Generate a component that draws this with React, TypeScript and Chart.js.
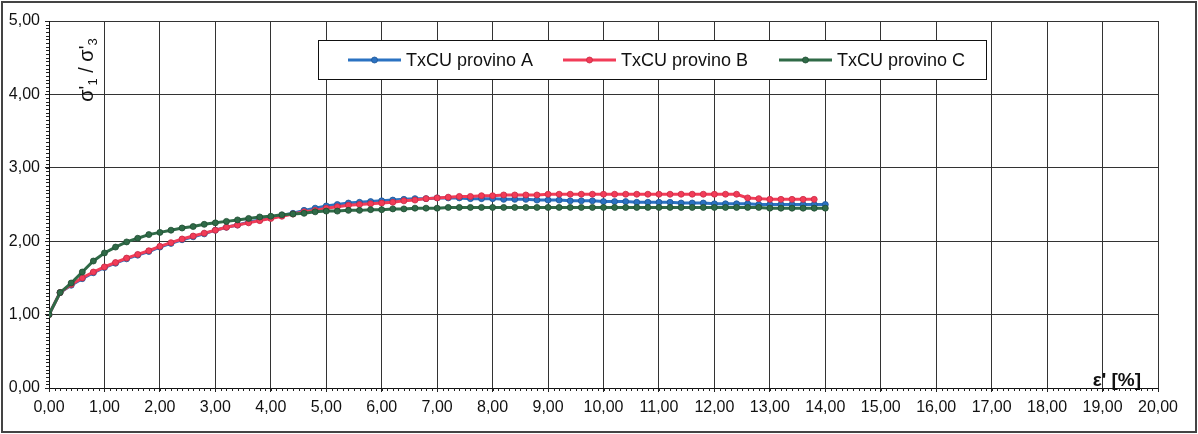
import React, { useEffect, useRef } from 'react';
import { Chart, registerables } from 'chart.js';

Chart.register(...registerables);

// Axial strain ε' [%]
const strainAC = [
  0, 0.2, 0.4, 0.6, 0.8, 1, 1.2, 1.4, 1.6, 1.8,
  2, 2.2, 2.4, 2.6, 2.8, 3, 3.2, 3.4, 3.6, 3.8,
  4, 4.2, 4.4, 4.6, 4.8, 5, 5.2, 5.4, 5.6, 5.8,
  6, 6.2, 6.4, 6.6, 6.8, 7, 7.2, 7.4, 7.6, 7.8,
  8, 8.2, 8.4, 8.6, 8.8, 9, 9.2, 9.4, 9.6, 9.8,
  10, 10.2, 10.4, 10.6, 10.8, 11, 11.2, 11.4, 11.6, 11.8,
  12, 12.2, 12.4, 12.6, 12.8, 13, 13.2, 13.4, 13.6, 13.8,
  14,
];
const strainB = [
  0, 0.2, 0.4, 0.6, 0.8, 1, 1.2, 1.4, 1.6, 1.8,
  2, 2.2, 2.4, 2.6, 2.8, 3, 3.2, 3.4, 3.6, 3.8,
  4, 4.2, 4.4, 4.6, 4.8, 5, 5.2, 5.4, 5.6, 5.8,
  6, 6.2, 6.4, 6.6, 6.8, 7, 7.2, 7.4, 7.6, 7.8,
  8, 8.2, 8.4, 8.6, 8.8, 9, 9.2, 9.4, 9.6, 9.8,
  10, 10.2, 10.4, 10.6, 10.8, 11, 11.2, 11.4, 11.6, 11.8,
  12, 12.2, 12.4, 12.6, 12.8, 13, 13.2, 13.4, 13.6, 13.8,
];

// σ'1 / σ'3
const ratioA = [
  1.00, 1.30, 1.40, 1.49, 1.57, 1.64, 1.70, 1.76, 1.81, 1.86,
  1.92, 1.97, 2.02, 2.06, 2.10, 2.15, 2.19, 2.22, 2.26, 2.29,
  2.32, 2.35, 2.38, 2.42, 2.45, 2.48, 2.50, 2.52, 2.53, 2.54,
  2.55, 2.56, 2.57, 2.58, 2.58, 2.59, 2.59, 2.59, 2.58, 2.58,
  2.58, 2.57, 2.57, 2.57, 2.56, 2.56, 2.56, 2.55, 2.55, 2.55,
  2.54, 2.54, 2.54, 2.53, 2.53, 2.53, 2.53, 2.52, 2.52, 2.52,
  2.51, 2.51, 2.51, 2.51, 2.50, 2.50, 2.50, 2.50, 2.50, 2.50,
  2.50,
];
const ratioB = [
  1.00, 1.30, 1.41, 1.50, 1.58, 1.65, 1.71, 1.77, 1.82, 1.87,
  1.93, 1.98, 2.03, 2.07, 2.11, 2.15, 2.19, 2.22, 2.25, 2.28,
  2.31, 2.34, 2.37, 2.40, 2.42, 2.45, 2.47, 2.49, 2.50, 2.51,
  2.52, 2.53, 2.55, 2.56, 2.58, 2.59, 2.60, 2.61, 2.61, 2.62,
  2.62, 2.63, 2.63, 2.63, 2.63, 2.64, 2.64, 2.64, 2.64, 2.64,
  2.64, 2.64, 2.64, 2.64, 2.64, 2.64, 2.64, 2.64, 2.64, 2.64,
  2.64, 2.64, 2.64, 2.59, 2.58, 2.57, 2.57, 2.57, 2.57, 2.57,
];
const ratioC = [
  1.00, 1.30, 1.43, 1.58, 1.73, 1.84, 1.92, 1.99, 2.04, 2.09,
  2.12, 2.15, 2.18, 2.20, 2.23, 2.25, 2.27, 2.29, 2.31, 2.33,
  2.34, 2.36, 2.37, 2.38, 2.40, 2.41, 2.41, 2.42, 2.42, 2.43,
  2.43, 2.44, 2.44, 2.45, 2.45, 2.45, 2.46, 2.46, 2.46, 2.46,
  2.46, 2.46, 2.46, 2.46, 2.46, 2.46, 2.46, 2.46, 2.46, 2.46,
  2.46, 2.46, 2.46, 2.46, 2.46, 2.46, 2.46, 2.46, 2.46, 2.46,
  2.46, 2.46, 2.46, 2.46, 2.46, 2.45, 2.45, 2.45, 2.45, 2.45,
  2.45,
];

const seriesLabels = ['TxCU provino A', 'TxCU provino B', 'TxCU provino C'];
const seriesColors = ['#2b72c2', '#f23c58', '#2f6a47'];
const seriesBorders = ['#1d5596', '#c92a44', '#1f4c32'];

const xMin = 0;
const xMax = 20;
const yMin = 0;
const yMax = 5;

const FONT = "'Liberation Sans', Arial, sans-serif";
const fmt = (v: number) => Number(v).toFixed(2).replace('.', ',');

const decorPlugin = {
  id: 'decor',
  beforeDraw(chart: any) {
    const ctx = chart.ctx;
    ctx.save();
    ctx.fillStyle = '#ffffff';
    ctx.fillRect(0, 0, chart.width, chart.height);
    ctx.restore();
  },
  afterDraw(chart: any) {
    const ctx = chart.ctx;
    const xs = chart.scales.x;
    const ys = chart.scales.y;
    const area = chart.chartArea;
    ctx.save();
    // minor ticks
    ctx.strokeStyle = '#222';
    ctx.lineWidth = 1;
    ctx.beginPath();
    for (let i = 0; i <= (xMax - xMin) * 10; i++) {
      const px = Math.round(xs.getPixelForValue(xMin + i / 10)) + 0.5;
      ctx.moveTo(px, area.bottom);
      ctx.lineTo(px, area.bottom + 3);
    }
    for (let i = 0; i <= (yMax - yMin) * 20; i++) {
      const py = Math.round(ys.getPixelForValue(yMin + i / 20)) + 0.5;
      ctx.moveTo(area.left - 3, py);
      ctx.lineTo(area.left, py);
    }
    ctx.stroke();

    // legend
    const bx = 318.5, by = 40.5, bw = 668, bh = 39;
    ctx.fillStyle = '#fff';
    ctx.fillRect(bx, by, bw, bh);
    ctx.strokeStyle = '#111';
    ctx.lineWidth = 1;
    ctx.strokeRect(bx, by, bw, bh);
    const starts = [348, 563, 779];
    const cy = by + bh / 2;
    chart.data.datasets.forEach((ds: any, i: number) => {
      const lx = starts[i];
      ctx.strokeStyle = ds.borderColor;
      ctx.lineWidth = 3;
      ctx.beginPath();
      ctx.moveTo(lx, cy);
      ctx.lineTo(lx + 53, cy);
      ctx.stroke();
      ctx.fillStyle = ds.pointBackgroundColor;
      ctx.strokeStyle = ds.pointBorderColor;
      ctx.lineWidth = 0.8;
      ctx.beginPath();
      ctx.arc(lx + 26.5, cy, 3, 0, Math.PI * 2);
      ctx.fill();
      ctx.stroke();
      ctx.fillStyle = '#111';
      ctx.font = `18px ${FONT}`;
      ctx.textBaseline = 'middle';
      ctx.textAlign = 'left';
      ctx.fillText(ds.label, lx + 58, cy + 1);
    });

    // y-axis title σ'1 / σ'3 (rotated)
    ctx.save();
    ctx.translate(93, 70);
    ctx.rotate(-Math.PI / 2);
    ctx.fillStyle = '#111';
    ctx.textBaseline = 'alphabetic';
    ctx.textAlign = 'left';
    const parts: [string, boolean][] = [["σ'", false], ['1', true], [' / ', false], ["σ'", false], ['3', true]];
    const big = `20px ${FONT}`;
    const small = `13px ${FONT}`;
    let total = 0;
    parts.forEach(([t, sub]) => {
      ctx.font = sub ? small : big;
      total += ctx.measureText(t).width;
    });
    let cx = -total / 2;
    parts.forEach(([t, sub]) => {
      ctx.font = sub ? small : big;
      ctx.fillText(t, cx, sub ? 4 : 0);
      cx += ctx.measureText(t).width;
    });
    ctx.restore();

    // x-axis title
    ctx.fillStyle = '#111';
    ctx.font = `bold 19px ${FONT}`;
    ctx.textAlign = 'right';
    ctx.textBaseline = 'middle';
    ctx.fillText("ε' [%]", 1141, 381);

    // outer frame
    ctx.strokeStyle = '#444';
    ctx.lineWidth = 2;
    ctx.strokeRect(2, 2, chart.width - 4, chart.height - 4);
    ctx.restore();
  },
};

export default function App() {
  const ref = useRef<HTMLCanvasElement | null>(null);

  useEffect(() => {
    if (!ref.current) return;
    const xs = [strainAC, strainB, strainAC];
    const ys = [ratioA, ratioB, ratioC];
    const datasets = seriesLabels.map((label, i) => ({
      label,
      data: xs[i].map((x, j) => ({ x, y: ys[i][j] })),
      borderColor: seriesColors[i],
      backgroundColor: seriesColors[i],
      pointBackgroundColor: seriesColors[i],
      pointBorderColor: seriesBorders[i],
      pointBorderWidth: 0.8,
      pointRadius: 3,
      borderWidth: 3,
      tension: 0,
      order: 3 - i,
    }));
    const chart = new Chart(ref.current, {
      type: 'line',
      data: { datasets },
      plugins: [decorPlugin],
      options: {
        animation: false,
        responsive: false,
        maintainAspectRatio: false,
        layout: { padding: { left: 0, top: 21, right: 40, bottom: 0 } },
        plugins: { legend: { display: false }, tooltip: { enabled: false } },
        scales: {
          x: {
            type: 'linear',
            min: xMin,
            max: xMax,
            afterFit: (s: any) => { s.height = 46; },
            ticks: {
              stepSize: 1,
              maxRotation: 0,
              minRotation: 0,
              autoSkip: false,
              padding: 6,
              color: '#111',
              font: { family: FONT, size: 16 },
              callback: (v: any) => fmt(v),
            },
            grid: { color: '#333', lineWidth: 1, tickLength: 4, tickColor: '#222' },
            border: { color: '#111', width: 1 },
          },
          y: {
            type: 'linear',
            min: yMin,
            max: yMax,
            afterFit: (s: any) => { s.width = 49; },
            ticks: {
              stepSize: 1,
              padding: 5,
              color: '#111',
              font: { family: FONT, size: 16 },
              callback: (v: any) => fmt(v),
            },
            grid: { color: '#333', lineWidth: 1, tickLength: 4, tickColor: '#222' },
            border: { color: '#111', width: 1 },
          },
        },
      },
    });
    return () => chart.destroy();
  }, []);

  return (
    <div style={{ position: 'fixed', left: 0, top: 0, width: 1198, height: 434, background: '#fff' }}>
      <canvas ref={ref} width={1198} height={434} style={{ display: 'block', width: 1198, height: 434 }} />
    </div>
  );
}
